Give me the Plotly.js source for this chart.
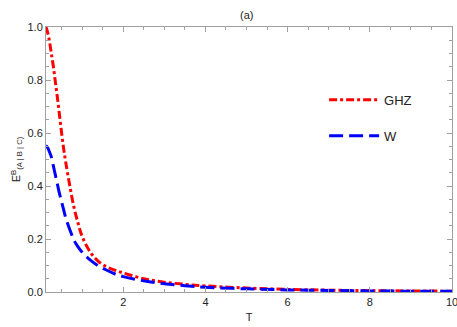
<!DOCTYPE html>
<html>
<head>
<meta charset="utf-8">
<script src="https://cdn.plot.ly/plotly-3.0.1.min.js"></script>
<style>
  html, body { margin: 0; padding: 0; background: #fff; }
  #chart { width: 457px; height: 327px; }
</style>
</head>
<body>
<div id="chart"></div>
<script>
// values
const T = [0.12, 0.15, 0.2, 0.25, 0.3, 0.35, 0.4, 0.45, 0.5, 0.55, 0.6, 0.7, 0.8, 0.9, 1.0,
           1.2, 1.4, 1.6, 1.8, 2.0, 2.5, 3.0, 3.5, 4.0, 5.0, 6.0, 7.0, 8.0, 9.0, 10.0];
const ghz = [1.0, 0.985, 0.95, 0.90, 0.85, 0.79, 0.73, 0.665, 0.60, 0.54, 0.49, 0.40, 0.32, 0.26, 0.21,
             0.15, 0.115, 0.095, 0.082, 0.072, 0.05, 0.037, 0.029, 0.023, 0.015, 0.010, 0.007, 0.005, 0.004, 0.003];
const w = [0.552, 0.548, 0.53, 0.51, 0.475, 0.44, 0.405, 0.37, 0.34, 0.31, 0.28, 0.235, 0.196, 0.17, 0.15,
           0.12, 0.098, 0.082, 0.068, 0.058, 0.042, 0.031, 0.024, 0.018, 0.012, 0.008, 0.006, 0.004, 0.003, 0.0025];

const traces = [
    {
        x: T, y: ghz, type: 'scatter', mode: 'lines', name: 'GHZ', legend: 'legend',
        line: {color: '#ff0000', width: 3, dash: '8px,3px,3px,3px', shape: 'spline'}
    },
    {
        x: T, y: w, type: 'scatter', mode: 'lines', name: 'W', legend: 'legend2',
        line: {color: '#0000ff', width: 3, dash: '14px,6px', shape: 'spline'}
    }
];

const axisCommon = {
    showgrid: false,
    zeroline: false,
    showline: true,
    linecolor: '#a0a0a0',
    linewidth: 1,
    mirror: 'allticks',
    ticks: 'inside',
    ticklen: 5,
    tickcolor: '#a0a0a0',
    ticklabeloverflow: 'allow',
    tickfont: {family: 'Liberation Sans, Arial, sans-serif', size: 11, color: '#222'}
};

const layout = {
    width: 457,
    height: 327,
    margin: {l: 46, r: 5, t: 27, b: 35},
    paper_bgcolor: '#fff',
    plot_bgcolor: '#fff',
    font: {family: 'Liberation Sans, Arial, sans-serif', size: 11, color: '#222'},
    title: {text: '(a)', x: 0.54, xanchor: 'center', y: 0.955, yanchor: 'middle',
            font: {size: 11, color: '#222'}},
    xaxis: Object.assign({}, axisCommon, {
        range: [0.12, 10],
        tickvals: [2, 4, 6, 8, 10],
        ticktext: ['2', '4', '6', '8', '10'],
        minor: {dtick: 0.5, tick0: 0, ticks: 'inside', ticklen: 3, tickcolor: '#a0a0a0'},
        title: {text: 'T', standoff: 6, font: {size: 11}}
    }),
    yaxis: Object.assign({}, axisCommon, {
        range: [0, 1],
        tickvals: [0, 0.2, 0.4, 0.6, 0.8, 1.0],
        ticktext: ['0.0', '0.2', '0.4', '0.6', '0.8', '1.0'],
        minor: {dtick: 0.05, tick0: 0, ticks: 'inside', ticklen: 3, tickcolor: '#a0a0a0'},
        title: {text: 'E<sup>B</sup><sub>(A | B | C)</sub>', standoff: 4, font: {size: 11}}
    }),
    legend: {
        x: 0.685, y: 0.725, xanchor: 'left', yanchor: 'middle',
        itemwidth: 50,
        bgcolor: 'rgba(0,0,0,0)', borderwidth: 0,
        font: {size: 13, color: '#222'}
    },
    legend2: {
        x: 0.685, y: 0.589, xanchor: 'left', yanchor: 'middle',
        itemwidth: 50,
        bgcolor: 'rgba(0,0,0,0)', borderwidth: 0,
        font: {size: 13, color: '#222'}
    },
    showlegend: true
};

Plotly.newPlot('chart', traces, layout, {displayModeBar: false, staticPlot: true});
</script>
</body>
</html>
